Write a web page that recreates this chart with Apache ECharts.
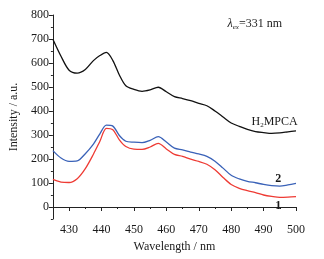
<!DOCTYPE html>
<html>
<head>
<meta charset="utf-8">
<script src="https://cdn.jsdelivr.net/npm/echarts@6/dist/echarts.min.js"></script>
<style>
  html, body { margin: 0; padding: 0; background: #fff; }
  #main { width: 324px; height: 259px; }
</style>
</head>
<body>
<div id="main"></div>
<script>
// 波长 (nm)
const wavelength = [425, 427.5, 430, 432.5, 435, 437.5, 439.5, 441.5, 443.5, 445.5, 447.5, 450, 452.5, 455, 457.5, 460,
  462.5, 465, 467.5, 470, 472.5, 475, 477.5, 480, 482.5, 485, 487.5, 490, 492.5, 495, 497.5, 500]

// H2MPCA
const ligand = [699, 628, 570, 558, 573, 610, 631, 644, 610, 550, 505, 490, 482, 488, 499, 480,
  460, 452, 443, 432, 422, 400, 375, 350, 336, 323, 314, 310, 307, 309, 313, 317]
// 2
const complex2 = [235, 204, 190, 192, 222, 262, 305, 341, 337, 298, 274, 270, 268, 278, 293, 271,
  245, 238, 229, 221, 211, 191, 162, 132, 117, 107, 101, 94, 89, 87, 92, 98]
// 1
const complex1 = [115, 104, 102, 118, 160, 220, 274, 328, 322, 280, 252, 241, 240, 250, 265, 242,
  219, 211, 199, 190, 178, 155, 123, 94, 78, 68, 60, 50, 44, 40, 41, 43]

const xMajor = [430, 440, 450, 460, 470, 480, 490, 500]
const xMinor = [425, 435, 445, 455, 465, 475, 485, 495]
const yMajor = [0, 100, 200, 300, 400, 500, 600, 700, 800]
const yMinor = [-50, 50, 150, 250, 350, 450, 550, 650, 750]

const font = '"Liberation Serif", "Times New Roman", "DejaVu Serif", serif'
const txt = '#1a1a1a'

function pairs (ys) {
  return wavelength.map((x, i) => [x, ys[i]])
}

// 曲线标注（放在数据坐标上）
function curveTag (x, y, label) {
  return {
    symbol: 'circle',
    symbolSize: 1,
    silent: true,
    itemStyle: { color: 'rgba(0,0,0,0)' },
    data: [{ coord: [x, y] }],
    label: Object.assign({ show: true, position: 'inside' }, label)
  }
}

const chart = echarts.init(document.getElementById('main'))

const baseX = { type: 'value', min: 425, max: 500, position: 'bottom' }
const baseY = { type: 'value', min: -50, max: 800, position: 'left' }

const option = {
  backgroundColor: '#fff',
  animation: false,
  grid: { left: 46, right: 28, top: 15, bottom: 40, containLabel: false },
  xAxis: [
    Object.assign({}, baseX, {
      name: 'Wavelength / nm',
      nameLocation: 'middle',
      nameGap: 21,
      nameTextStyle: { fontFamily: font, fontSize: 12, color: txt },
      axisLine: { show: true, lineStyle: { color: '#222', width: 1 } },
      axisTick: { show: true, customValues: xMajor, length: 4, lineStyle: { color: '#222' } },
      axisLabel: { customValues: xMajor, fontFamily: font, fontSize: 12, color: txt, margin: 5 },
      splitLine: { show: false }
    }),
    Object.assign({}, baseX, {
      axisLine: { show: false },
      axisTick: { show: true, customValues: xMinor, length: 2, lineStyle: { color: '#222' } },
      axisLabel: { show: false },
      splitLine: { show: false }
    })
  ],
  yAxis: [
    Object.assign({}, baseY, {
      name: 'Intensity / a.u.',
      nameLocation: 'middle',
      nameGap: 29,
      nameTextStyle: { fontFamily: font, fontSize: 12, color: txt },
      axisLine: { show: true, lineStyle: { color: '#222', width: 1 } },
      axisTick: { show: true, customValues: yMajor, length: 4, lineStyle: { color: '#222' } },
      axisLabel: { customValues: yMajor, fontFamily: font, fontSize: 12, color: txt, margin: 4 },
      splitLine: { show: false }
    }),
    Object.assign({}, baseY, {
      axisLine: { show: false },
      axisTick: { show: true, customValues: yMinor, length: 2, lineStyle: { color: '#222' } },
      axisLabel: { show: false },
      splitLine: { show: false }
    })
  ],
  graphic: [
    {
      type: 'text',
      right: 42,
      top: 18,
      style: {
        text: '{l|λ}{s|ex}{n|=331 nm}',
        rich: {
          l: { fontFamily: font, fontStyle: 'italic', fontSize: 12, fill: txt },
          s: { fontFamily: font, fontStyle: 'italic', fontSize: 7, fill: txt, padding: [6, 0, 0, 0] },
          n: { fontFamily: font, fontSize: 12, fill: txt }
        }
      }
    }
  ],
  series: [
    {
      name: 'H2MPCA',
      type: 'line',
      data: pairs(ligand),
      smooth: 0.3,
      showSymbol: false,
      lineStyle: { color: '#111', width: 1.3 },
      markPoint: curveTag(493.4, 354, {
        formatter: 'H{sub|2}MPCA',
        fontFamily: font, fontSize: 12, color: txt,
        rich: { sub: { fontFamily: font, fontSize: 7, color: txt, padding: [6, 0, 0, 0] } }
      })
    },
    {
      name: '2',
      type: 'line',
      data: pairs(complex2),
      smooth: 0.3,
      showSymbol: false,
      lineStyle: { color: '#3a62b8', width: 1.3 },
      markPoint: curveTag(494.5, 115, { formatter: '2', fontFamily: font, fontWeight: 'bold', fontSize: 12, color: txt })
    },
    {
      name: '1',
      type: 'line',
      data: pairs(complex1),
      smooth: 0.3,
      showSymbol: false,
      lineStyle: { color: '#ee3b34', width: 1.3 },
      markPoint: curveTag(494.5, 5, { formatter: '1', fontFamily: font, fontWeight: 'bold', fontSize: 12, color: txt })
    }
  ]
}

chart.setOption(option)
</script>
</body>
</html>
